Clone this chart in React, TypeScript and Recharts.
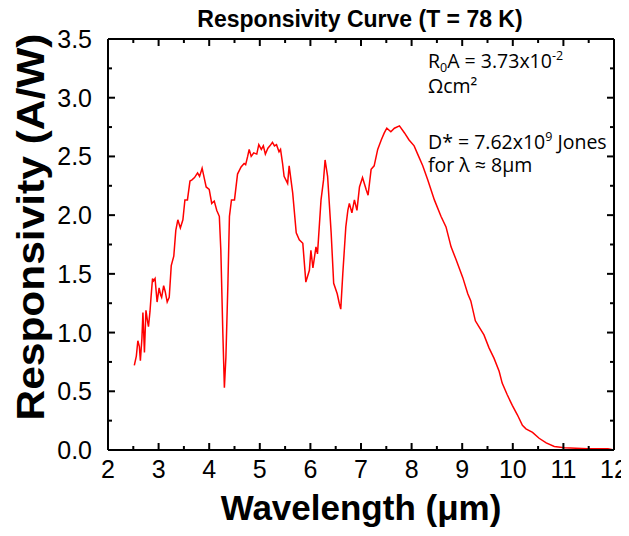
import React from "react";
import { LineChart, Line, XAxis, YAxis, ReferenceLine } from "recharts";

const wavelengths = [
  2.52, 2.56, 2.59, 2.62, 2.64, 2.67, 2.69, 2.72, 2.75, 2.78, 2.8, 2.83, 2.85, 2.88, 2.9, 2.93, 2.97,
  3.01, 3.04, 3.06, 3.1, 3.13, 3.17, 3.21, 3.25, 3.3, 3.34, 3.38, 3.43, 3.48, 3.52, 3.57, 3.62, 3.66,
  3.71, 3.77, 3.81, 3.86, 3.9, 3.94, 4.0, 4.05, 4.1, 4.15, 4.2, 4.23, 4.27, 4.3, 4.33, 4.37, 4.4,
  4.44, 4.5, 4.56, 4.63, 4.69, 4.72, 4.76, 4.79, 4.83, 4.88, 4.94, 4.98, 5.03, 5.07, 5.11, 5.16,
  5.2, 5.25, 5.29, 5.33, 5.38, 5.41, 5.45, 5.48, 5.55, 5.58, 5.65, 5.72, 5.78, 5.85, 5.91, 5.98,
  6.01, 6.05, 6.11, 6.14, 6.21, 6.26, 6.29, 6.34, 6.41, 6.46, 6.53, 6.57, 6.6, 6.64, 6.7, 6.74,
  6.77, 6.82, 6.87, 6.92, 6.97, 7.03, 7.1, 7.14, 7.2, 7.26, 7.33, 7.4, 7.46, 7.51, 7.59, 7.66,
  7.76, 7.86, 7.95, 8.05, 8.12, 8.22, 8.32, 8.45, 8.58, 8.68, 8.78, 8.88, 9.01, 9.11, 9.17, 9.26,
  9.33, 9.43, 9.53, 9.63, 9.73, 9.79, 9.89, 9.99, 10.09, 10.19, 10.26, 10.39, 10.52, 10.66,
  10.82, 11.02, 11.48, 11.88, 12.0,
];

const responsivity = [
  0.72, 0.8, 0.93, 0.88, 0.76, 0.95, 1.17, 0.83, 1.19, 1.1, 1.05, 1.18, 1.3, 1.46, 1.44, 1.46, 1.26,
  1.38, 1.32, 1.3, 1.4, 1.35, 1.26, 1.3, 1.57, 1.65, 1.87, 1.96, 1.89, 1.96, 2.13, 2.13, 2.29, 2.3,
  2.32, 2.36, 2.33, 2.4, 2.32, 2.24, 2.22, 2.1, 2.12, 2.04, 1.99, 1.7, 0.99, 0.53, 0.79, 1.42, 1.99,
  2.13, 2.13, 2.35, 2.41, 2.44, 2.43, 2.5, 2.56, 2.5, 2.53, 2.52, 2.6, 2.56, 2.59, 2.52, 2.57,
  2.59, 2.62, 2.59, 2.6, 2.54, 2.56, 2.44, 2.33, 2.27, 2.42, 2.19, 1.85, 1.79, 1.76, 1.43, 1.53,
  1.7, 1.55, 1.73, 1.67, 2.13, 2.3, 2.47, 2.33, 1.85, 1.42, 1.33, 1.25, 1.2, 1.5, 1.9, 2.04,
  2.1, 2.02, 2.13, 2.04, 2.24, 2.32, 2.22, 2.17, 2.39, 2.42, 2.56, 2.64, 2.7, 2.74, 2.71, 2.74,
  2.76, 2.7, 2.64, 2.59, 2.52, 2.42, 2.3, 2.13, 1.99, 1.9, 1.73, 1.62, 1.47, 1.33, 1.27, 1.1,
  1.05, 0.98, 0.87, 0.78, 0.67, 0.57, 0.47, 0.38, 0.3, 0.21, 0.18, 0.15, 0.1, 0.06,
  0.03, 0.02, 0.01, 0.01, 0.0,
];

const xMajorTicks = [2, 3, 4, 5, 6, 7, 8, 9, 10, 11, 12];
const xMinorTicks = [2.5, 3.5, 4.5, 5.5, 6.5, 7.5, 8.5, 9.5, 10.5, 11.5];
const yMajorTicks = [0, 0.5, 1.0, 1.5, 2.0, 2.5, 3.0, 3.5];
const yMinorTicks = [0.25, 0.75, 1.25, 1.75, 2.25, 2.75, 3.25];

const titleText = "Responsivity Curve (T = 78 K)";
const xLabelText = "Wavelength (\u03bcm)";
const yLabelText = "Responsivity (A/W)";

const data = wavelengths.map((w, i) => ({ w, r: responsivity[i] }));
const xTicks = [...xMajorTicks, ...xMinorTicks].sort((a, b) => a - b);
const yTicks = [...yMajorTicks, ...yMinorTicks].sort((a, b) => a - b);

const W = 621;
const H = 520;
const PLOT_LEFT = 100;
const PLOT_RIGHT = 606;
const PLOT_TOP = 31;
const PLOT_BOTTOM = 442;
const FONT = "'Liberation Sans', Arial, Helvetica, sans-serif";

const XTick = (props: any) => {
  const { x, y, payload } = props;
  const major = xMajorTicks.includes(payload.value);
  const len = major ? 7 : 4;
  return (
    <g>
      <line x1={x} x2={x} y1={y} y2={y - len} stroke="#000" strokeWidth={2} />
      <line x1={x} x2={x} y1={PLOT_TOP} y2={PLOT_TOP + len} stroke="#000" strokeWidth={2} />
      {major && (
        <text x={x} y={y + 28} textAnchor="middle" fontSize={25} fontFamily={FONT} fill="#000">
          {payload.value}
        </text>
      )}
    </g>
  );
};

const YTick = (props: any) => {
  const { x, y, payload } = props;
  const major = yMajorTicks.includes(payload.value);
  const len = major ? 7 : 4;
  return (
    <g>
      <line x1={x} x2={x + len} y1={y} y2={y} stroke="#000" strokeWidth={2} />
      <line x1={PLOT_RIGHT} x2={PLOT_RIGHT - len} y1={y} y2={y} stroke="#000" strokeWidth={2} />
      {major && (
        <text x={x - 16} y={y + 9} textAnchor="end" fontSize={25} fontFamily={FONT} fill="#000">
          {payload.value.toFixed(1)}
        </text>
      )}
    </g>
  );
};

export default function App() {
  return (
    <div style={{ position: "relative", width: W, height: H, background: "#fff" }}>
      <LineChart
        width={W}
        height={H}
        data={data}
        margin={{ top: PLOT_TOP, right: W - PLOT_RIGHT, bottom: 0, left: 0 }}
      >
        <XAxis
          dataKey="w"
          type="number"
          domain={[2, 12]}
          ticks={xTicks}
          interval={0}
          height={H - PLOT_BOTTOM}
          tickSize={0}
          tickMargin={0}
          tickLine={false}
          axisLine={{ stroke: "#000", strokeWidth: 2 }}
          tick={<XTick />}
          allowDataOverflow
        />
        <YAxis
          type="number"
          domain={[0, 3.5]}
          ticks={yTicks}
          interval={0}
          width={PLOT_LEFT}
          tickSize={0}
          tickMargin={0}
          tickLine={false}
          axisLine={{ stroke: "#000", strokeWidth: 2 }}
          tick={<YTick />}
          allowDataOverflow
        />
        <ReferenceLine y={3.5} stroke="#000" strokeWidth={2} />
        <ReferenceLine x={12} stroke="#000" strokeWidth={2} />
        <Line
          type="linear"
          dataKey="r"
          stroke="#ff0000"
          strokeWidth={1.5}
          dot={false}
          isAnimationActive={false}
        />
      </LineChart>
      <svg
        width={W}
        height={H}
        style={{ position: "absolute", left: 0, top: 0, pointerEvents: "none", overflow: "visible" }}
      >
        <text x={352} y={19} textAnchor="middle" fontSize={23} fontWeight="bold" fontFamily={FONT} fill="#000">
          {titleText}
        </text>
        <text
          x={353}
          y={512}
          textAnchor="middle"
          fontSize={35}
          fontWeight="bold"
          fontFamily={FONT}
          fill="#000"
        >
          {xLabelText}
        </text>
        <text
          transform="translate(36,219) rotate(-90)"
          x={0}
          y={0}
          textAnchor="middle"
          fontSize={38}
          textLength={387}
          lengthAdjust="spacingAndGlyphs"
          fontWeight="bold"
          fontFamily={FONT}
          fill="#000"
        >
          {yLabelText}
        </text>
        <g fontFamily="'Open Sans', 'Noto Sans', sans-serif" fontSize={19.5} fill="#000">
          <text x={420} y={60}>
            R<tspan fontSize={12.5} dy={4}>0</tspan>
            <tspan dy={-4}>A = 3.73x10</tspan>
            <tspan fontSize={12.5} dy={-8}>-2</tspan>
          </text>
          <text x={420} y={85}>
            Ωcm²
          </text>
          <text x={420} y={141}>
            D* = 7.62x10<tspan fontSize={12.5} dy={-8}>9</tspan>
            <tspan dy={8}> Jones</tspan>
          </text>
          <text x={420} y={164}>
            for λ ≈ 8μm
          </text>
        </g>
      </svg>
    </div>
  );
}
